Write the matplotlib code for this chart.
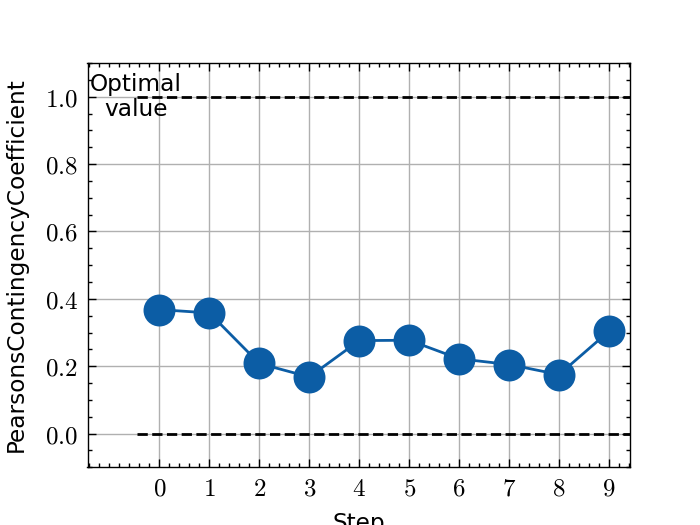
import matplotlib
matplotlib.use('Agg')
import matplotlib.pyplot as plt
from matplotlib.ticker import AutoMinorLocator, FormatStrFormatter, MultipleLocator

steps = [0, 1, 2, 3, 4, 5, 6, 7, 8, 9]
coef = [0.368, 0.358, 0.208, 0.168, 0.276, 0.277, 0.222, 0.205, 0.175, 0.304]
optimal = [1.0, 0.0]

plt.rcParams.update({
    'font.family': 'DejaVu Sans',
    'font.size': 8.4,
    'mathtext.fontset': 'cm',
    'axes.linewidth': 0.5,
    'grid.linewidth': 0.5,
    'lines.linewidth': 1,
    'xtick.direction': 'in',
    'ytick.direction': 'in',
    'xtick.major.size': 3,
    'ytick.major.size': 3,
    'xtick.minor.size': 1.5,
    'ytick.minor.size': 1.5,
    'xtick.major.width': 0.5,
    'ytick.major.width': 0.5,
    'xtick.minor.width': 0.5,
    'ytick.minor.width': 0.5,
    'xtick.top': True,
    'ytick.right': True,
})

fig, ax = plt.subplots(figsize=(3.5, 2.625), dpi=200)
ax.grid(True, color='#b0b0b0', linewidth=0.5, zorder=0)

for v in optimal:
    ax.plot([-0.45, 9.5], [v, v], color='black', linestyle='--', linewidth=1)

ax.plot(steps, coef, color='#0C5DA5', marker='o', markersize=10.5, linewidth=1)
ax.text(-0.47, 1.0, 'Optimal\nvalue', ha='center', va='center', multialignment='center',
        linespacing=1.1)

ax.set_xlim(-1.44, 9.42)
ax.set_ylim(-0.1, 1.1)
ax.xaxis.set_major_locator(MultipleLocator(1))
ax.xaxis.set_minor_locator(AutoMinorLocator(5))
ax.yaxis.set_major_locator(MultipleLocator(0.2))
ax.yaxis.set_minor_locator(AutoMinorLocator(4))
ax.set_xticks(steps)
ax.xaxis.set_major_formatter(FormatStrFormatter('$%d$'))
ax.yaxis.set_major_formatter(FormatStrFormatter('$%.1f$'))
ax.tick_params(which='both', labelsize=9)

ax.set_xlabel('Step')
ax.set_ylabel('PearsonsContingencyCoefficient', labelpad=6)

plt.savefig('out.png', dpi=200)
